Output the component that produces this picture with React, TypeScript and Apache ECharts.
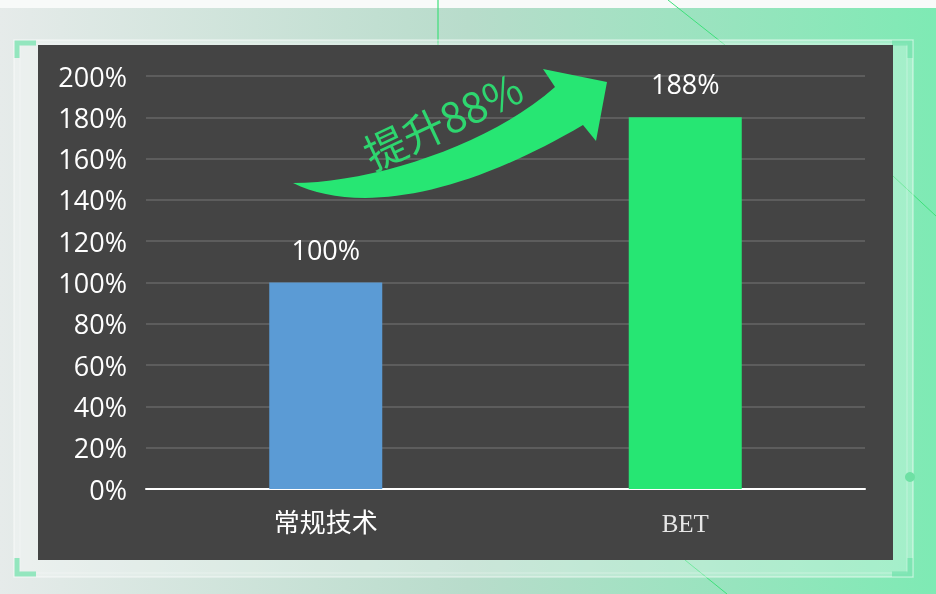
import React, { useEffect, useRef } from "react";
import * as echarts from "echarts";

const categories = ["常规技术", "BET"];
const values = [100, 180];
const valueLabels = ["100%", "188%"];
const yMin = 0;
const yMax = 200;
const yStep = 20;
const headline = "提升88%";

const BAR_COLORS = ["#5b9bd5", "#26e673"];

const ARROW_D =
  "M293,183 C352,212 452,202 583,125 L596,141 L607,82 L543,69 L555,87 C490,145 372,183 293,183 Z";

echarts.graphic.registerShape("upArrow", echarts.graphic.extendPath(ARROW_D, {}) as any);

export default function App() {
  const ref = useRef<HTMLDivElement>(null);
  useEffect(() => {
    if (!ref.current) return;
    const chart = echarts.init(ref.current, undefined, { renderer: "svg" });
    const cjk = "'Open Sans', 'Noto Sans CJK SC', sans-serif";
    const corner = "rgba(110,225,170,0.7)";
    chart.setOption({
      animation: false,
      graphic: [
        {
          type: "rect",
          z: -20,
          shape: { x: 0, y: 0, width: 936, height: 594 },
          style: {
            fill: new echarts.graphic.LinearGradient(0, 0, 1, 0, [
              { offset: 0, color: "#e6ebea" },
              { offset: 0.5, color: "#b8dccb" },
              { offset: 1, color: "#7eeab4" },
            ]),
          },
        },
        {
          type: "rect",
          z: -19,
          shape: { x: 0, y: 0, width: 936, height: 8 },
          style: { fill: "#f8faf9" },
        },
        { type: "line", z: -18, shape: { x1: 438, y1: 0, x2: 438, y2: 45 }, style: { stroke: "#3ee07a", lineWidth: 1.2 } },
        { type: "line", z: -18, shape: { x1: 668, y1: 0, x2: 725, y2: 45 }, style: { stroke: "#3ee07a", lineWidth: 1 } },
        { type: "line", z: -18, shape: { x1: 893, y1: 176, x2: 936, y2: 216 }, style: { stroke: "#3ee07a", lineWidth: 1 } },
        { type: "line", z: -18, shape: { x1: 685, y1: 560, x2: 727, y2: 594 }, style: { stroke: "#3ee07a", lineWidth: 1 } },
        {
          type: "rect",
          z: -17,
          shape: { x: 14, y: 40, width: 899, height: 537 },
          style: { fill: "rgba(255,255,255,0.28)", stroke: "rgba(255,255,255,0.45)", lineWidth: 1.5 },
        },
        {
          type: "rect",
          z: -16,
          shape: { x: 20, y: 44, width: 887, height: 529 },
          style: { fill: "none", stroke: "rgba(255,255,255,0.35)", lineWidth: 1 },
        },
        { type: "polyline", z: -15, shape: { points: [[17, 58], [17, 43], [36, 43]] }, style: { stroke: corner, lineWidth: 5, fill: "none" } },
        { type: "polyline", z: -15, shape: { points: [[892, 43], [910, 43], [910, 58]] }, style: { stroke: corner, lineWidth: 5, fill: "none" } },
        { type: "polyline", z: -15, shape: { points: [[17, 558], [17, 574], [36, 574]] }, style: { stroke: corner, lineWidth: 5, fill: "none" } },
        { type: "polyline", z: -15, shape: { points: [[892, 574], [910, 574], [910, 558]] }, style: { stroke: corner, lineWidth: 5, fill: "none" } },
        { type: "circle", z: -15, shape: { cx: 910, cy: 477, r: 5 }, style: { fill: "#6ee0a4" } },
        {
          type: "rect",
          z: -14,
          shape: { x: 38, y: 45, width: 855, height: 515 },
          style: { fill: "#444444" },
        },
        {
          type: "upArrow",
          z: 20,
          x: 0,
          y: 0,
          style: { fill: "#27e673" },
        },
        {
          type: "text",
          z: 20,
          x: 442,
          y: 119,
          rotation: (25 * Math.PI) / 180,
          style: {
            text: headline,
            fill: "#2ed66f",
            font: "42px 'Noto Sans CJK SC', sans-serif",
            textAlign: "center",
            textVerticalAlign: "middle",
          },
        },
      ],
      grid: { left: 146, right: 71, top: 76, bottom: 105, containLabel: false },
      xAxis: {
        type: "category",
        data: categories,
        axisLine: { lineStyle: { color: "#ffffff", width: 2 } },
        axisTick: { show: false },
        axisLabel: {
          margin: 18,
          formatter: (v: string) => (v === "BET" ? `{s|${v}}` : `{c|${v}}`),
          rich: {
            c: { color: "#ffffff", fontSize: 26, fontFamily: "'Noto Sans CJK SC', sans-serif" },
            s: { color: "#e6e6e6", fontSize: 25, fontFamily: "'Liberation Serif', serif", padding: [4, 0, 0, 0] },
          },
        },
      },
      yAxis: {
        type: "value",
        min: yMin,
        max: yMax,
        interval: yStep,
        axisLine: { show: false },
        axisTick: { show: false },
        axisLabel: {
          formatter: "{value}%",
          color: "#ffffff",
          fontSize: 27,
          fontFamily: cjk,
          margin: 19,
        },
        splitLine: { lineStyle: { color: "#666666", width: 1.5 } },
      },
      series: [
        {
          type: "bar",
          data: values,
          barWidth: 113,
          itemStyle: { color: (p: any) => BAR_COLORS[p.dataIndex] },
          label: {
            show: true,
            position: "top",
            distance: 20,
            formatter: (p: any) => valueLabels[p.dataIndex],
            color: "#ffffff",
            fontSize: 27,
            fontFamily: cjk,
          },
        },
      ],
    });
    return () => chart.dispose();
  }, []);
  return (
    <div
      ref={ref}
      style={{ position: "fixed", left: 0, top: 0, width: 936, height: 594 }}
    />
  );
}
